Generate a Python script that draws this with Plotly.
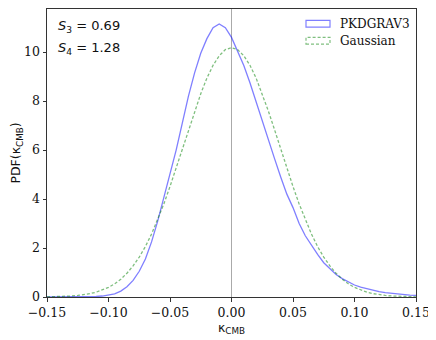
import plotly.graph_objects as go

# bin centres of the kappa histogram
kappa = [round(-0.15 + 0.005 * i, 3) for i in range(61)]

pdf_pkdgrav = [
    0.0, 0.0, 0.0, 0.0, 0.0, 0.001, 0.003, 0.008, 0.02, 0.04,
    0.07, 0.13, 0.24, 0.42, 0.68, 1.05, 1.55, 2.25, 3.10, 4.05,
    5.00, 6.00, 7.10, 8.20, 9.15, 9.95, 10.55, 11.00, 11.15, 11.00,
    10.60, 10.05, 9.45, 8.75, 7.95, 7.20, 6.40, 5.65, 4.90, 4.20,
    3.65, 3.00, 2.50, 2.10, 1.74, 1.40, 1.14, 0.92, 0.75, 0.61,
    0.49, 0.40, 0.33, 0.27, 0.22, 0.18, 0.15, 0.12, 0.10, 0.08,
    0.07,
]
pdf_gauss = [
    0.007, 0.011, 0.017, 0.027, 0.042, 0.063, 0.094, 0.137, 0.198, 0.282,
    0.393, 0.539, 0.729, 0.970, 1.27, 1.63, 2.06, 2.57, 3.15, 3.80,
    4.51, 5.27, 6.04, 6.83, 7.59, 8.30, 8.94, 9.46, 9.85, 10.10,
    10.18, 10.10, 9.85, 9.46, 8.94, 8.30, 7.59, 6.83, 6.04, 5.27,
    4.51, 3.80, 3.15, 2.57, 2.06, 1.63, 1.27, 0.970, 0.729, 0.539,
    0.393, 0.282, 0.198, 0.137, 0.094, 0.063, 0.042, 0.027, 0.017, 0.011,
    0.007,
]
series_names = ["PKDGRAV3", "Gaussian"]
stats_text = ["<i>S</i><sub>3</sub> = 0.69", "<i>S</i><sub>4</sub> = 1.28"]
x_ticks = [-0.15, -0.10, -0.05, 0.0, 0.05, 0.10, 0.15]
y_ticks = [0, 2, 4, 6, 8, 10]

BLUE = "rgba(0,0,255,0.5)"
GREEN = "rgba(0,128,0,0.5)"
AXCOL = "#333333"
SERIF = "DejaVu Serif"
SANS = "DejaVu Sans"

# the page body adds 8px, so the figure is a bit smaller and offset
OFF = 8
FW, FH = 436 - OFF, 340 - OFF
# plot box in screen pixels
L, R, T, B = 47, 416, 9.3, 296.7
PW, PH = R - L, B - T

def px(x):
    return (x - L) / PW

def py(y):
    return 1 - (y - T) / PH

fig = go.Figure()
fig.add_trace(go.Scatter(x=kappa, y=pdf_pkdgrav, mode="lines",
                         line=dict(color=BLUE, width=1.3), showlegend=False))
fig.add_trace(go.Scatter(x=kappa, y=pdf_gauss, mode="lines",
                         line=dict(color=GREEN, width=1.3, dash="3px,2px"), showlegend=False))

# zero line
fig.add_shape(type="line", x0=0, x1=0, y0=0, y1=1, xref="x", yref="paper",
              line=dict(color="#aaaaaa", width=1), layer="below")

# hand-made legend with outlined patches
for i, (name, col, dash) in enumerate([(series_names[0], BLUE, "solid"),
                                        (series_names[1], GREEN, "3px,2px")]):
    y_c = 24 + 17 * i
    fig.add_shape(type="rect", xref="paper", yref="paper",
                  x0=px(306), x1=px(330), y0=py(y_c + 3.3), y1=py(y_c - 3.3),
                  line=dict(color=col, width=1.2, dash=dash))
    fig.add_annotation(x=px(338), y=py(y_c), xref="paper", yref="paper",
                       text=name, showarrow=False, xanchor="left", yanchor="middle",
                       font=dict(family=SERIF, size=12, color="#111111"))

for i, t in enumerate(stats_text):
    fig.add_annotation(x=px(56), y=py(27 + 22 * i),
                       xref="paper", yref="paper", text=t, showarrow=False,
                       xanchor="left", yanchor="middle",
                       font=dict(family=SANS, size=13, color="#111111"))

fig.update_layout(
    width=FW, height=FH,
    margin=dict(l=L - OFF, r=FW - (R - OFF), t=T - OFF, b=FH - (B - OFF)),
    plot_bgcolor="white", paper_bgcolor="white",
    showlegend=False,
)
fig.update_xaxes(
    range=[-0.15, 0.15], tickvals=x_ticks, automargin=False,
    ticktext=[f"{v:.2f}".replace("-", "\u2212") for v in x_ticks],
    showgrid=False, zeroline=False, showline=True, mirror=True,
    linecolor=AXCOL, linewidth=1, ticks="outside", ticklen=3.5, tickcolor=AXCOL,
    tickfont=dict(family=SERIF, size=12.5, color="#111111"),
    title=dict(text="\u03ba<sub>CMB</sub>", font=dict(family=SANS, size=12.5, color="#111111"), standoff=2),
)
fig.update_yaxes(
    range=[0, 11.76], tickvals=y_ticks, automargin=False,
    showgrid=False, zeroline=False, showline=True, mirror=True,
    linecolor=AXCOL, linewidth=1, ticks="outside", ticklen=3.5, tickcolor=AXCOL,
    tickfont=dict(family=SERIF, size=12.5, color="#111111"),
    title=dict(text="PDF(\u03ba<sub>CMB</sub>)", font=dict(family=SANS, size=12.5, color="#111111"), standoff=8),
)

fig.write_html("out.html")
